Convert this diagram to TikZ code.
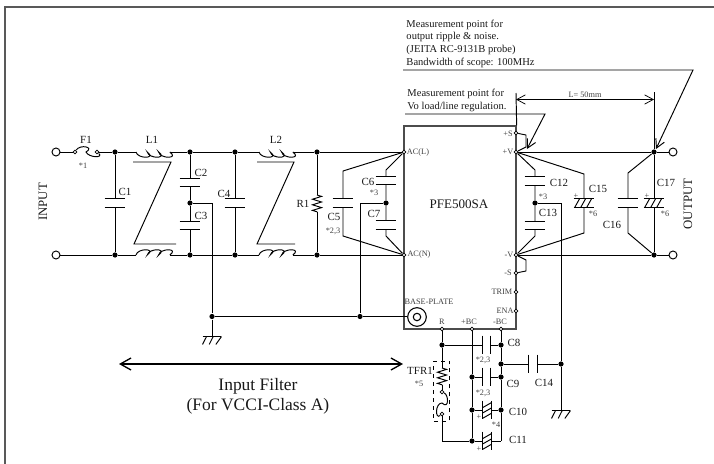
\documentclass[tikz,border=0pt]{standalone}
\usepackage{fontspec}
\setmainfont{Liberation Serif}
\usetikzlibrary{arrows.meta,positioning,calc,decorations.pathmorphing}

\tikzset{
  wire/.style={line width=0.72pt,black},
  dot/.style={circle,fill=black,inner sep=0pt,minimum size=3.9pt},
  term/.style={circle,draw,fill=white,line width=0.72pt,inner sep=0pt,minimum size=6pt},
  pin/.style={circle,draw,fill=white,line width=0.6pt,inner sep=0pt,minimum size=2.8pt},
  lbl/.style={inner sep=0pt,font=\fontsize{8.2}{9}\selectfont,text=black!90},
  small lbl/.style={inner sep=0pt,font=\fontsize{6.2}{7}\selectfont,text=black!75},
  note/.style={inner sep=0pt,align=left,anchor=west,font=\fontsize{7.9}{9.5}\selectfont,text=black!90},
  barb/.style={>={Straight Barb[length=6.5pt,width=7pt]}},
  capv/.style={inner sep=0pt,minimum width=15pt,minimum height=5.6pt,
    append after command={
      (\tikzlastnode.north west) edge[wire] (\tikzlastnode.north east)
      (\tikzlastnode.south west) edge[wire] (\tikzlastnode.south east)}},
  caph/.style={inner sep=0pt,minimum width=5.4pt,minimum height=13.5pt,
    append after command={
      (\tikzlastnode.north west) edge[wire] (\tikzlastnode.south west)
      (\tikzlastnode.north east) edge[wire] (\tikzlastnode.south east)}},
  polv/.style={capv,
    append after command={
      ([xshift=1pt]\tikzlastnode.south west) edge[wire] ([xshift=4.5pt]\tikzlastnode.north west)
      ([xshift=5.5pt]\tikzlastnode.south west) edge[wire] ([xshift=9pt]\tikzlastnode.north west)
      ([xshift=10pt]\tikzlastnode.south west) edge[wire] ([xshift=13.5pt]\tikzlastnode.north west)}},
  polh/.style={caph,
    append after command={
      ([yshift=1pt]\tikzlastnode.south west) edge[wire] ([yshift=4.5pt]\tikzlastnode.south east)
      ([yshift=5pt]\tikzlastnode.south west) edge[wire] ([yshift=8.5pt]\tikzlastnode.south east)
      ([yshift=9pt]\tikzlastnode.south west) edge[wire] ([yshift=12.5pt]\tikzlastnode.south east)}},
  gnd/.style={inner sep=0pt,minimum width=13.5pt,minimum height=5.2pt,
    append after command={
      (\tikzlastnode.north west) edge[wire] (\tikzlastnode.north east)
      ([xshift=3pt]\tikzlastnode.north west) edge[wire] (\tikzlastnode.south west)
      ([xshift=8pt]\tikzlastnode.north west) edge[wire] ([xshift=5pt]\tikzlastnode.south west)
      (\tikzlastnode.north east) edge[wire] ([xshift=10pt]\tikzlastnode.south west)}},
  zig/.style={wire,decorate,decoration={zigzag,segment length=4.2pt,amplitude=3.4pt}}
}

\begin{document}
\begin{tikzpicture}[x=0.75pt,y=-0.75pt,wire]
  \useasboundingbox (0,0) rectangle (714,464);
  \draw[line width=1.5pt,black!65] (5,464) -- (5,6.5) -- (714,6.5);

  % module
  \node[draw,black!70,line width=1pt,minimum width=84pt,minimum height=152.25pt,inner sep=0pt] (pfe) at (460,227.5) {};
  \node[inner sep=0pt,font=\fontsize{9.8}{11}\selectfont,text=black!90] (pfename) at (459,204) {PFE500SA};

  % input side
  \node[term] (inL) at (56,152) {};
  \node[term] (inN) at (56,255) {};
  \node[pin] (f1a) at (75,152) {};
  \node[pin] (f1b) at (97,152) {};
  \foreach \n/\x in {a/115,b/190,c/235,d/317}{
    \node[dot] (t\n) at (\x,152) {};
    \node[dot] (b\n) at (\x,255) {};
  }
  \node[capv] (c1) at (115,203) {};
  \node[capv] (c2) at (190,182.5) {};
  \node[dot] (m23) at (190,203) {};
  \node[capv] (c3) at (190,225.5) {};
  \node[capv] (c4) at (235,203) {};
  \coordinate (r1a) at (317,195);
  \coordinate (r1b) at (317,212);
  \node[capv] (c5) at (343,203) {};
  \node[capv] (c6) at (386,180.5) {};
  \node[dot] (m67) at (386,203) {};
  \node[capv] (c7) at (386,225) {};
  \node[pin] (acl) at (404,152) {};
  \node[pin] (acn) at (404,255) {};

  \draw (inL) -- (f1a);
  \draw (f1a) .. controls +(5,-8) and +(9,-5) .. (86,152) .. controls +(3,6) and +(7,6) .. (f1b);
  \draw (f1b) -- (ta) -- +(21,0) coordinate (l1a);
  \draw (l1a) .. controls +(1.5,7) and +(9.5,7) .. ++(11.3,0) .. controls +(1.5,7) and +(9.5,7) .. ++(11.3,0) .. controls +(1.5,7) and +(9.5,7) .. ++(11.3,0) coordinate (l1b);
  \draw (l1b) -- (tb) -- (tc) -- +(24,0) coordinate (l2a);
  \draw (l2a) .. controls +(1.5,7) and +(9.5,7) .. ++(11.3,0) .. controls +(1.5,7) and +(9.5,7) .. ++(11.3,0) .. controls +(1.5,7) and +(9.5,7) .. ++(11.3,0) coordinate (l2b);
  \draw (l2b) -- (td) -- (acl);
  \draw (inN) -- (ba) -- +(21,0) coordinate (l3a);
  \draw (l3a) .. controls +(1.5,-7) and +(9.5,-7) .. ++(11.3,0) .. controls +(1.5,-7) and +(9.5,-7) .. ++(11.3,0) .. controls +(1.5,-7) and +(9.5,-7) .. ++(11.3,0) coordinate (l3b);
  \draw (l3b) -- (bb) -- (bc) -- +(24,0) coordinate (l4a);
  \draw (l4a) .. controls +(1.5,-7) and +(9.5,-7) .. ++(11.3,0) .. controls +(1.5,-7) and +(9.5,-7) .. ++(11.3,0) .. controls +(1.5,-7) and +(9.5,-7) .. ++(11.3,0) coordinate (l4b);
  \draw (l4b) -- (bd) -- (acn);
  % common mode marks
  \draw (133,162) -- (171,162) -- (134,244) -- (176,244);
  \draw (257,162) -- (294,162) -- (257,244) -- (295,244);

  \draw (ta) -- (c1.north) (c1.south) -- (ba);
  \draw (tb) -- (c2.north) (c2.south) -- (m23) -- (c3.north) (c3.south) -- (bb);
  \draw (tc) -- (c4.north) (c4.south) -- (bc);
  \draw (td) -- (r1a) (r1b) -- (bd);
  \draw[zig] (r1a) -- (r1b);
  \draw (acl) -- (343,171) -- (c5.north) (c5.south) -- (343,236) -- (acn);
  \draw (acl) -- (386,170) -- (c6.north) (c6.south) -- (m67) -- (c7.north) (c7.south) -- (386,236) -- (acn);

  % base plate and frame ground
  \node[draw,circle,line width=0.8pt,inner sep=0pt,minimum size=14pt] (bp) at (417,317) {};
  \node[draw,circle,line width=0.8pt,inner sep=0pt,minimum size=5.6pt] (bpin) at (417,317) {};
  \node[dot] (gj) at (212,316.5) {};
  \node[dot] (bj) at (360,316.5) {};
  \node[gnd] (g1) at (212,340.5) {};
  \draw (m23) -- (212,203) -- (gj) -- (g1.north);
  \draw (m67) -- (360,203) -- (bj);
  \draw (gj) -- (bj) -- (bp.west |- bj);

  % output side
  \node[pin] (ps) at (516,133) {};
  \node[pin] (pv) at (516,152) {};
  \node[pin] (nv) at (516,255) {};
  \node[pin] (ns) at (516,273) {};
  \node[pin] (trim) at (516,292) {};
  \node[pin] (ena) at (516,311) {};
  \node[capv] (c12) at (535,181) {};
  \node[dot] (m12) at (535,203) {};
  \node[capv] (c13) at (535,225.5) {};
  \node[polv] (c15) at (584,203) {};
  \node[capv] (c16) at (628,203) {};
  \node[polv] (c17) at (654,203) {};
  \node[dot] (tv) at (654,152) {};
  \node[dot] (bv) at (654,255) {};
  \node[term] (outp) at (673,152) {};
  \node[term] (outn) at (673,255) {};
  \node[dot] (g2j) at (561,364) {};
  \node[gnd] (g2) at (561,414.5) {};

  \draw (pv) -- (tv) -- (outp);
  \draw (nv) -- (bv) -- (outn);
  \draw (ps) -- (526,135) -- (526,147) -- (pv);
  \draw (nv) -- (526,260) -- (526,271) -- (ns);
  \draw (pv) -- (535,170) -- (c12.north) (c12.south) -- (m12) -- (c13.north) (c13.south) -- (535,236) -- (nv);
  \draw (pv) -- (584,174) -- (c15.north) (c15.south) -- (584,233) -- (nv);
  \draw (tv) -- (628,173) -- (c16.north) (c16.south) -- (628,233) -- (bv);
  \draw (tv) -- (c17.north) (c17.south) -- (bv);
  \draw (m12) -- (561,203) -- (g2j) -- (g2.north);

  % bottom pins
  \node[pin] (r) at (442,329) {};
  \node[pin] (pbc) at (472,329) {};
  \node[pin] (nbc) at (501,329) {};
  \node[dot] (r8) at (442,345) {};
  \node[dot] (n8) at (501,345) {};
  \node[dot] (n14) at (501,364) {};
  \node[dot] (p9) at (472,377) {};
  \node[dot] (n9) at (501,377) {};
  \node[dot] (p10) at (472,410) {};
  \node[dot] (n10) at (501,410) {};
  \node[dot] (p11) at (472,441) {};
  \node[caph] (c8) at (486.5,345) {};
  \node[caph] (c9) at (486.5,377) {};
  \node[polh] (c10) at (487,410) {};
  \node[polh] (c11) at (487,441) {};
  \node[caph] (c14) at (533,364) {};
  \coordinate (nb) at (501,441);

  \draw (r) -- (r8) -- (c8.west) (c8.east) -- (n8);
  \draw (pbc) -- (p9) -- (p10) -- (p11);
  \draw (nbc) -- (n8) -- (n14) -- (n9) -- (n10) -- (nb);
  \draw (n14) -- (c14.west) (c14.east) -- (g2j);
  \draw (p9) -- (c9.west) (c9.east) -- (n9);
  \draw (p10) -- (c10.west) (c10.east) -- (n10);
  \draw (p11) -- (c11.west) (c11.east) -- (nb);

  % thermal resistor
  \node[draw,dashed,line width=0.7pt,inner sep=0pt,minimum width=11.5pt,minimum height=45pt] (tfr) at (441.5,391) {};
  \coordinate (tfra) at (442,368);
  \coordinate (tfrb) at (442,385);
  \node[pin] (tfrc) at (442,392) {};
  \node[pin] (tfrd) at (442,414) {};
  \draw (r8) -- (tfra) (tfrb) -- (tfrc);
  \draw[zig] (tfra) -- (tfrb);
  \draw (tfrc) .. controls +(7,3) and +(7,7) .. (442,403) .. controls +(-7,0) and +(-7,6) .. (tfrd);
  \draw (tfrd) -- (442,441) -- (p11);

  % measurement leaders
  \node[note] (note1) at (406,43.5) {Measurement point for\\output ripple \& noise.\\(JEITA RC-9131B probe)\\Bandwidth of scope: 100MHz};
  \node[note] (note2) at (407,100.5) {Measurement point for\\Vo load/line regulation.};
  \coordinate (n1a) at (403,70);
  \coordinate (n1b) at (693,70);
  \coordinate (n2a) at (405,114);
  \coordinate (n2b) at (545,114);
  \coordinate (tip1) at (656,149);
  \coordinate (tip2) at (527,149);
  \draw[barb,->] (n1a) -- (n1b) -- (tip1);
  \draw[barb,->] (n2a) -- (n2b) -- (tip2);
  \draw (pfe.north east) -- (516,93) coordinate (da);
  \draw (tv) -- (654,92) coordinate (db);
  \draw[barb,<->,line width=0.55pt] (516,99.5) -- node[above=1pt,inner sep=0pt,small lbl] (dim) {L= 50mm} (654,99.5);

  % input filter span
  \draw[<->,>={Straight Barb[length=8pt,width=9pt]},line width=1pt] (119,364) -- (403,364);
  \node[inner sep=0pt,align=center,font=\fontsize{13.1}{15}\selectfont,text=black!90] (filt) at (258,396) {Input Filter\\(For VCCI-Class A)};
  \node[rotate=90,inner sep=0pt,font=\fontsize{9.6}{10}\selectfont,text=black!90] (input) at (43,202) {INPUT};
  \node[rotate=90,inner sep=0pt,font=\fontsize{9.6}{10}\selectfont,text=black!90] (output) at (688,204) {OUTPUT};

  \foreach \t/\x/\y [count=\i] in {F1/86/140,L1/152/140,C1/125/192,C2/201/173,C3/201/216,C4/224/194,
    L2/276/140,R1/303/204,C5/334/217,C6/368/182,C7/374/214,C12/559/183,C13/548/213,C15/598/189,
    C16/612/225,C17/666/183,C8/514/343,C9/513/384,C10/518/412,C11/518/440,C14/544/383,TFR1/420/371}
    \node[lbl] (name\i) at (\x,\y) {\t};
  \foreach \t/\x/\y [count=\i] in {*1/83/166,{*2,3}/333/231,*3/374/193,*3/543/197,*6/593/214,*6/665/214,
    {*2,3}/483/360,{*2,3}/483/393,*4/496/425,*5/419/384,+/576/196,+/647/196,+/479/417,+/479/449}
    \node[small lbl] (mark\i) at (\x,\y) {\t};
  \foreach \t/\x/\y [count=\i] in {AC(L)/418/153,AC(N)/419/255,+S/508/134,+V/508/152,-V/509/255,-S/508/273,
    TRIM/502/292,ENA/505/311,R/442/322,+BC/469/322,-BC/500/322,BASE-PLATE/429/302}
    \node[small lbl] (pinname\i) at (\x,\y) {\t};
\end{tikzpicture}
\end{document}
